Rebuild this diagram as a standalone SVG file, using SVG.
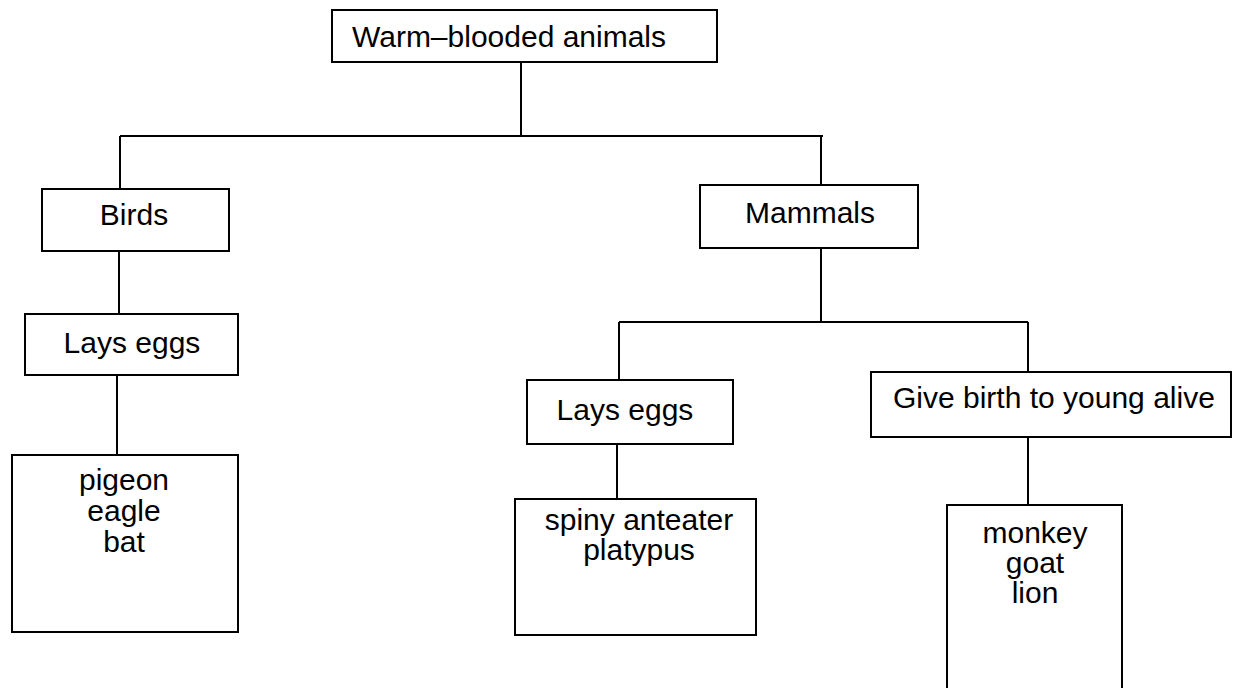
<svg xmlns="http://www.w3.org/2000/svg" width="1244" height="688" viewBox="0 0 1244 688">
<style>
.box{fill:#fff;stroke:#000;stroke-width:2}
.ln{stroke:#000;stroke-width:2;fill:none}
text{font-family:"Liberation Sans",Arial,sans-serif;font-size:30px;fill:#000}
.c{text-anchor:middle}
</style>
<rect width="1244" height="688" fill="#fff"/>
<g id="connectors">
<path class="ln" d="M521 62V136M120 136H823M120 136V189M821 136V185"/>
<path class="ln" d="M119 251V314M117 375V455"/>
<path class="ln" d="M821 248V322M619 322H1028M619 322V380M617 444V499M1028 322V372M1028 437V505"/>
</g>
<g id="root"><rect class="box" x="332" y="10" width="385" height="52"/><text x="352" y="47">Warm–blooded animals</text></g>
<g id="birds"><rect class="box" x="42" y="189" width="187" height="62"/><text class="c" x="134" y="225">Birds</text></g>
<g id="birds-eggs"><rect class="box" x="25" y="314" width="213" height="61"/><text class="c" x="132" y="353">Lays eggs</text></g>
<g id="birds-list"><rect class="box" x="12" y="455" width="226" height="177"/><text class="c" x="124" y="490">pigeon</text><text class="c" x="124" y="521">eagle</text><text class="c" x="124" y="552">bat</text></g>
<g id="mammals"><rect class="box" x="700" y="185" width="218" height="63"/><text class="c" x="810" y="223">Mammals</text></g>
<g id="mammals-eggs"><rect class="box" x="527" y="380" width="206" height="64"/><text class="c" x="625" y="420">Lays eggs</text></g>
<g id="mammals-eggs-list"><rect class="box" x="515" y="499" width="241" height="136"/><text class="c" x="639" y="530">spiny anteater</text><text class="c" x="639" y="560">platypus</text></g>
<g id="mammals-live"><rect class="box" x="871" y="372" width="360" height="65"/><text x="893" y="408">Give birth to young alive</text></g>
<g id="mammals-live-list"><path class="ln" d="M947 690V505H1122V690"/><text class="c" x="1035" y="543">monkey</text><text class="c" x="1035" y="573">goat</text><text class="c" x="1035" y="603">lion</text></g>
</svg>
